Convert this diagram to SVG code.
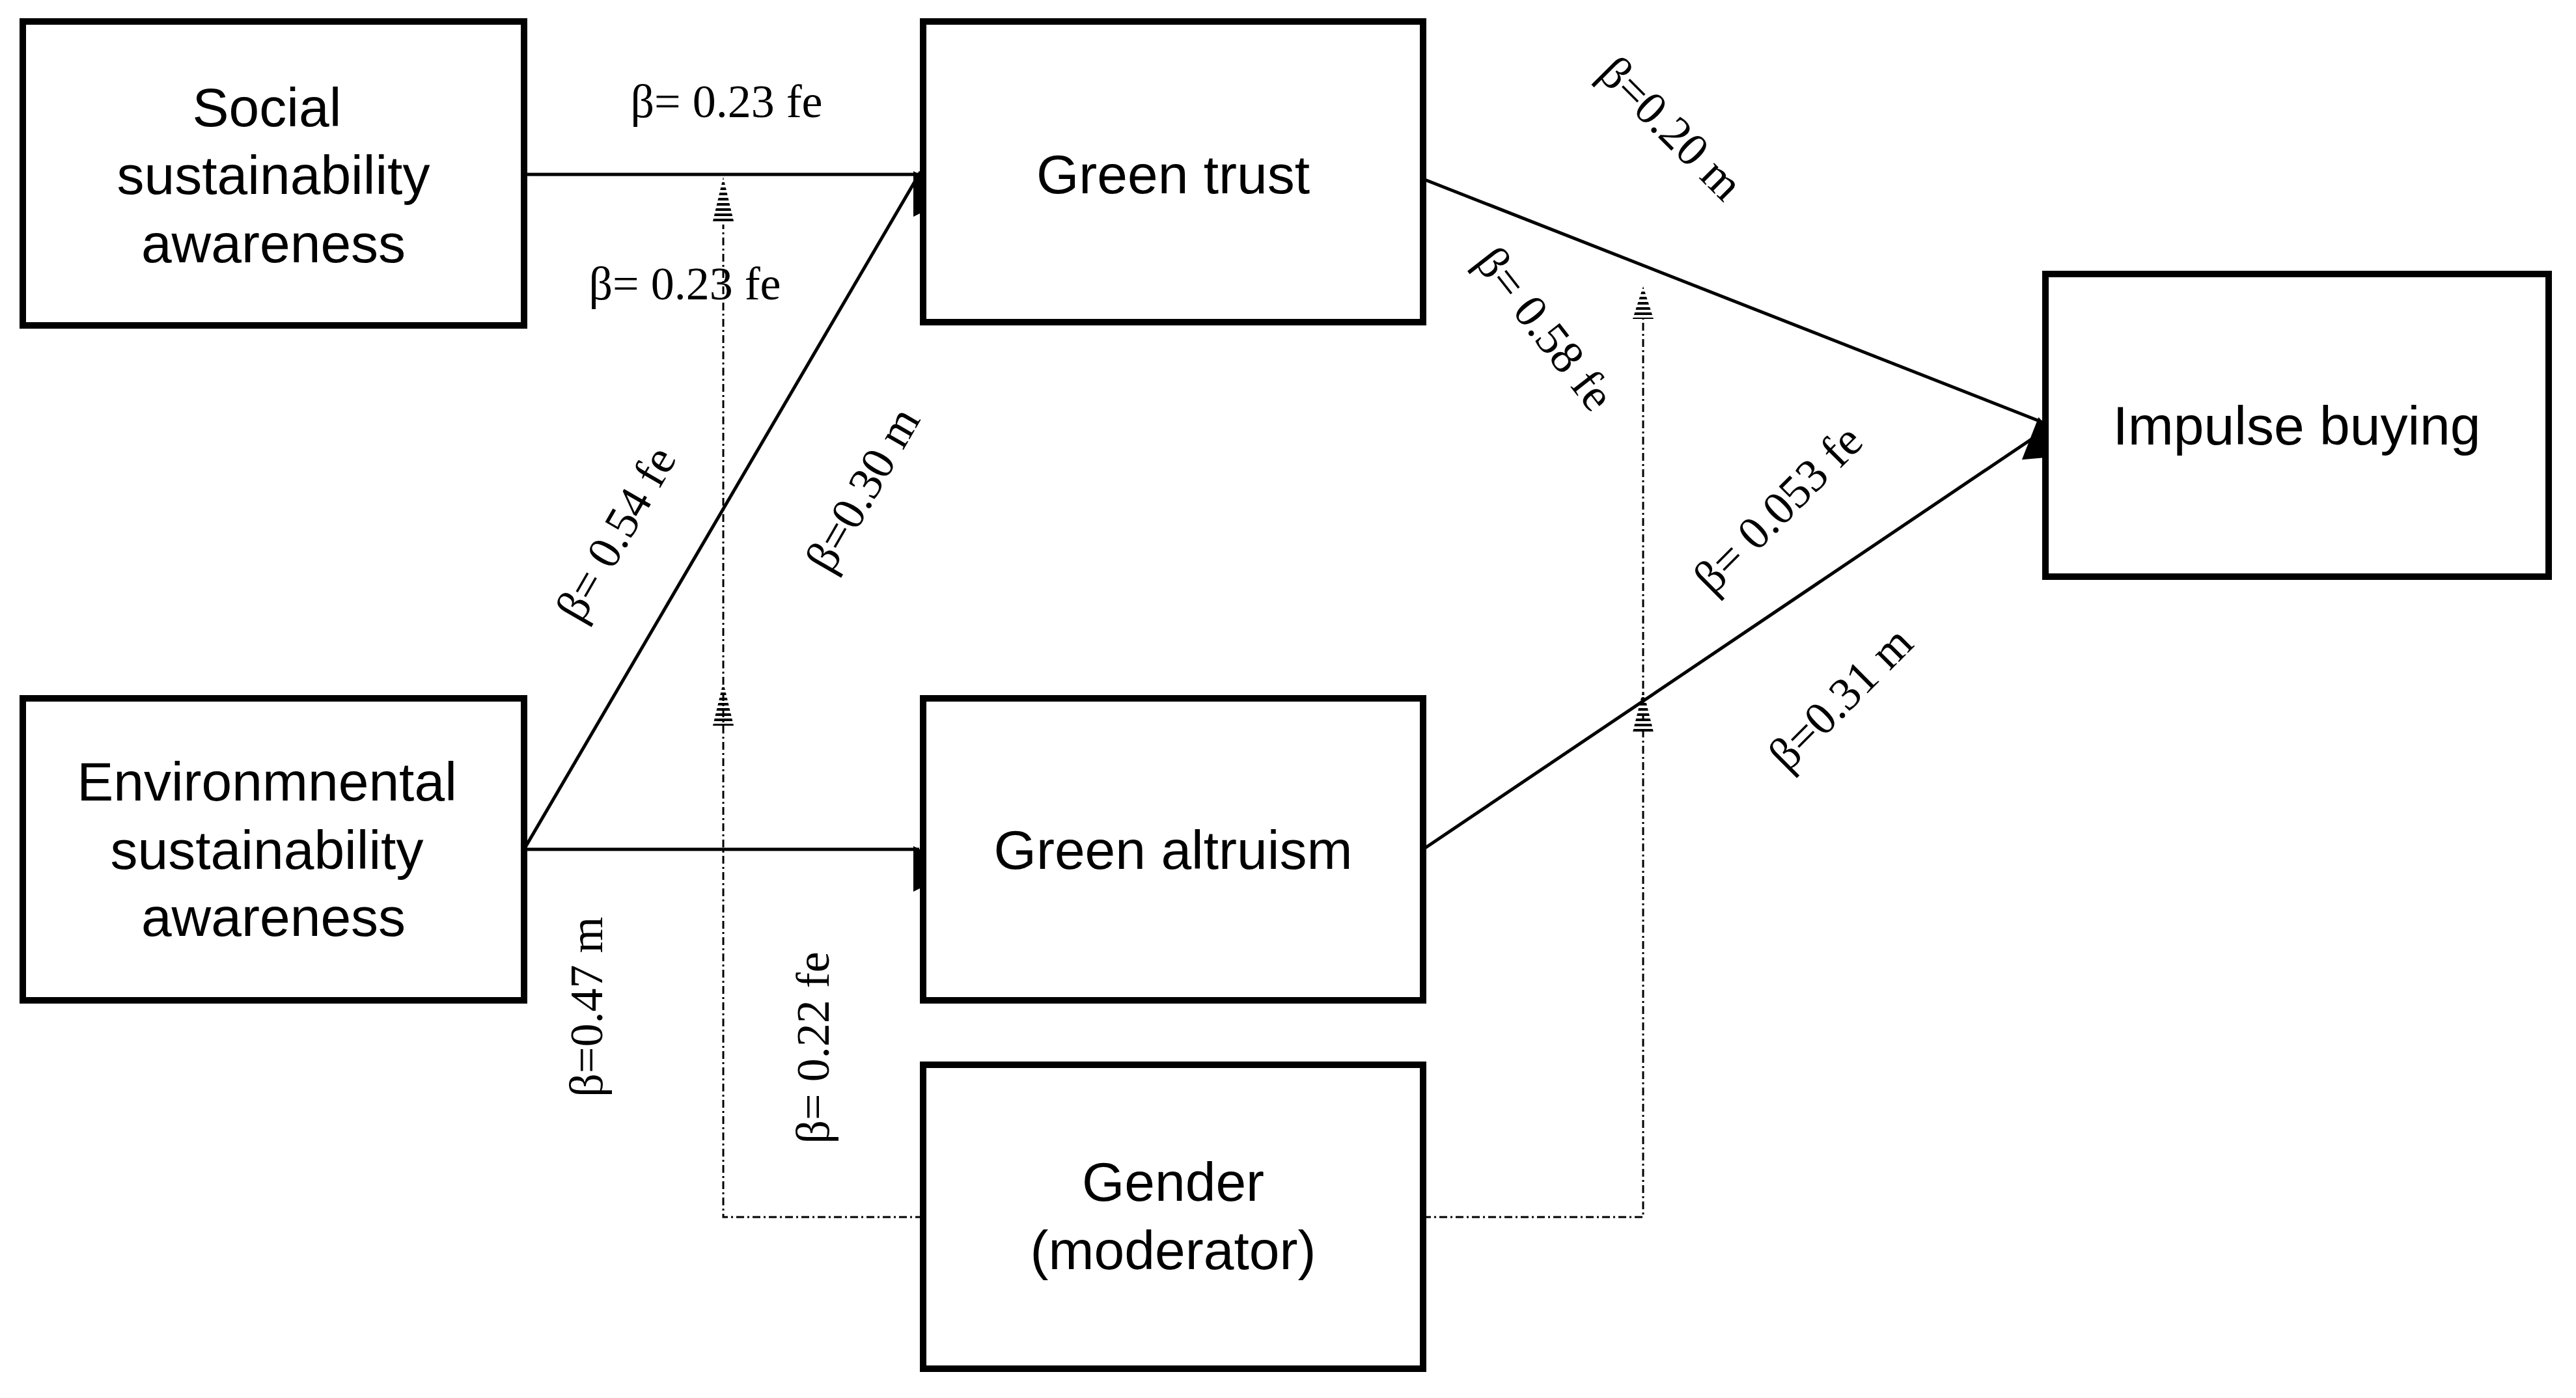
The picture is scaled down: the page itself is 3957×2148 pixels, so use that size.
<svg xmlns="http://www.w3.org/2000/svg" width="3957" height="2148" viewBox="0 0 3957 2148">
<defs>
<style>
.box{fill:#fff;stroke:#000;stroke-width:10}
.t{font-family:"Liberation Sans",Arial,sans-serif;font-size:84px;text-anchor:middle;fill:#000}
.b{font-family:"Liberation Serif","Times New Roman",serif;font-size:72px;text-anchor:middle;fill:#000}
.c{stroke:#000;stroke-width:5;fill:none}
.d{stroke:#000;stroke-width:3;fill:none;stroke-dasharray:12 5 3 5}
</style>
<marker id="ah" markerWidth="10" markerHeight="10" refX="9" refY="5" orient="auto" markerUnits="userSpaceOnUse" viewBox="0 0 10 10" style="overflow:visible">
<path d="M0,0 L10,5 L0,10 z" fill="#000" transform="scale(7)"/>
</marker>
<pattern id="hatch" width="10" height="8" patternUnits="userSpaceOnUse">
<rect width="10" height="4" fill="#000"/>
</pattern>
</defs>
<g id="connectors">
<line class="c" x1="805" y1="268" x2="1412" y2="268" marker-end="url(#ah)"/>
<line class="c" x1="805" y1="1305" x2="1414" y2="264" marker-end="url(#ah)"/>
<line class="c" x1="805" y1="1305" x2="1412" y2="1305" marker-end="url(#ah)"/>
<line class="c" x1="2186" y1="275" x2="3138" y2="649" marker-end="url(#ah)"/>
<line class="c" x1="2186" y1="1305" x2="3138" y2="663" marker-end="url(#ah)"/>
<polyline class="d" points="1418,1870 1111,1870 1111,345"/>
<polyline class="d" points="2186,1870 2524,1870 2524,490"/>
<polygon points="1111,272 1095,340 1127,340" fill="url(#hatch)"/>
<polygon points="1111,1048 1095,1115 1127,1115" fill="url(#hatch)"/>
<polygon points="2524,440 2508,490 2540,490" fill="url(#hatch)"/>
<polygon points="2524,1060 2508,1125 2540,1125" fill="url(#hatch)"/>
</g>
<g id="social"><rect class="box" x="35" y="33" width="770" height="467"/>
<text class="t" x="410" y="194">Social</text><text class="t" x="420" y="298">sustainability</text><text class="t" x="420" y="403">awareness</text></g>
<g id="env"><rect class="box" x="35" y="1073" width="770" height="464"/>
<text class="t" x="410" y="1230">Environmnental</text><text class="t" x="410" y="1335">sustainability</text><text class="t" x="420" y="1438">awareness</text></g>
<g id="trust"><rect class="box" x="1418" y="33" width="768" height="462"/>
<text class="t" x="1802" y="297">Green trust</text></g>
<g id="altruism"><rect class="box" x="1418" y="1073" width="768" height="464"/>
<text class="t" x="1802" y="1335">Green altruism</text></g>
<g id="gender"><rect class="box" x="1418" y="1636" width="768" height="467"/>
<text class="t" x="1802" y="1845">Gender</text><text class="t" x="1802" y="1950">(moderator)</text></g>
<g id="impulse"><rect class="box" x="3142" y="421" width="773" height="465"/>
<text class="t" x="3528" y="683">Impulse buying</text></g>
<g id="labels">
<text class="b" x="1116" y="180">β= 0.23 fe</text>
<text class="b" x="1052" y="460">β= 0.23 fe</text>
<text class="b" transform="translate(946,820) rotate(-60)" y="24">β= 0.54 fe</text>
<text class="b" transform="translate(1325,752) rotate(-60)" y="24">β=0.30 m</text>
<text class="b" transform="translate(2567,197) rotate(45)" y="24">β=0.20 m</text>
<text class="b" transform="translate(2373,505) rotate(52)" y="24">β= 0.58 fe</text>
<text class="b" transform="translate(2731,782) rotate(-45)" y="24">β= 0.053 fe</text>
<text class="b" transform="translate(2827,1073) rotate(-45)" y="24">β=0.31 m</text>
<text class="b" transform="translate(901,1547) rotate(-90)" y="24">β=0.47 m</text>
<text class="b" transform="translate(1249,1610) rotate(-90)" y="24">β= 0.22 fe</text>
</g>
</svg>
